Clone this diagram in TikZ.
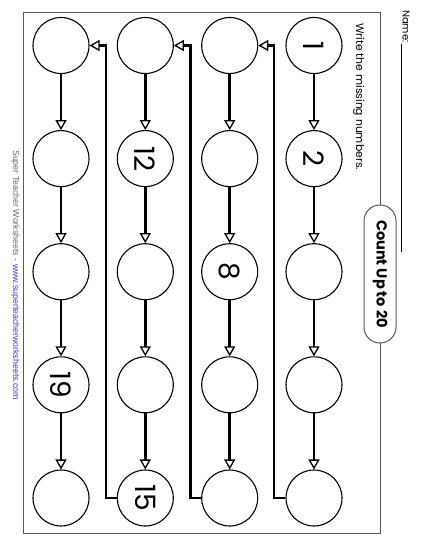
\documentclass[tikz,border=0pt]{standalone}
\usepackage{graphicx}
\usepackage{fontspec}
\setmainfont{Poppins}
\newfontfamily\footfont{Liberation Sans}
\usetikzlibrary{arrows.meta}
\definecolor{framegray}{gray}{0.35}
\definecolor{footgray}{gray}{0.42}
\definecolor{urlblue}{RGB}{60,60,200}
\begin{document}
\begin{tikzpicture}[x=1pt,y=-1pt,
  numcirc/.style={circle, draw, line width=1.1pt, minimum size=56pt, inner sep=0pt,
    font=\fontsize{28}{28}\selectfont},
  flow/.style={line width=2.5pt, -{Triangle[open, length=10pt, width=11pt, line width=1.3pt]}},
  rottext/.style={rotate=-90, inner sep=0pt, anchor=base west},
]
\useasboundingbox (0,0) rectangle (425,550);
% frame
\draw[framegray, line width=1pt] (23,12) rectangle (380,533);
% title pill
\node[draw=framegray, line width=1pt, fill=white, rounded corners=15.9pt,
  minimum width=32pt, minimum height=138pt, inner sep=0pt,
  font=\fontsize{14.5}{14.5}\selectfont\bfseries] (title) at (380,274)
  {\rotatebox{-90}{Count Up to 20}};
% name
\node[rottext, font=\fontsize{10}{10}\selectfont] (name) at (402.5,10) {Name:};
\draw[line width=0.6pt] ([xshift=-1.5pt,yshift=-1pt]name.base east) -- ++(0,208);
% instruction
\node[rottext, font=\fontsize{10.8}{10.8}\selectfont] (instr) at (356,23) {Write the missing numbers.};
% footer
\node[rottext, font=\footfont\fontsize{8.8}{8.8}\selectfont] (foot) at (13,150)
  {\textcolor{footgray}{Super Teacher Worksheets - }\textcolor{urlblue}{www.superteacherworksheets.com}};
% circles: column a (rightmost) .. d (leftmost)
\node[numcirc] (a1) at (314,45.5) {\rotatebox{-90}{1}};
\node[numcirc] (a2) at (314,158.6) {\rotatebox{-90}{2}};
\node[numcirc] (a3) at (314,271.7) {};
\node[numcirc] (a4) at (314,384.8) {};
\node[numcirc] (a5) at (314,498) {};
\node[numcirc] (b1) at (229.7,45.5) {};
\node[numcirc] (b2) at (229.7,158.6) {};
\node[numcirc] (b3) at (229.7,271.7) {\rotatebox{-90}{8}};
\node[numcirc] (b4) at (229.7,384.8) {};
\node[numcirc] (b5) at (229.7,498) {};
\node[numcirc] (c1) at (145.3,45.5) {};
\node[numcirc] (c2) at (145.3,158.6) {\rotatebox{-90}{12}};
\node[numcirc] (c3) at (145.3,271.7) {};
\node[numcirc] (c4) at (145.3,384.8) {};
\node[numcirc] (c5) at (145.3,498) {\rotatebox{-90}{15}};
\node[numcirc] (d1) at (61,45.5) {};
\node[numcirc] (d2) at (61,158.6) {};
\node[numcirc] (d3) at (61,271.7) {};
\node[numcirc] (d4) at (61,384.8) {\rotatebox{-90}{19}};
\node[numcirc] (d5) at (61,498) {};
% vertical arrows
\foreach \c in {a,b,c,d}{
  \draw[flow] (\c1) -- (\c2);
  \draw[flow] (\c2) -- (\c3);
  \draw[flow] (\c3) -- (\c4);
  \draw[flow] (\c4) -- (\c5);
}
% return connectors
\coordinate (ab-bot) at (274,498);
\coordinate (ab-top) at (274,45.5);
\coordinate (bc-bot) at (190.5,498);
\coordinate (bc-top) at (190.5,45.5);
\coordinate (cd-bot) at (106,498);
\coordinate (cd-top) at (106,45.5);
\draw[flow] (a5) -- (ab-bot) -- (ab-top) -- (b1);
\draw[flow] (b5) -- (bc-bot) -- (bc-top) -- (c1);
\draw[flow] (c5) -- (cd-bot) -- (cd-top) -- (d1);
\end{tikzpicture}
\end{document}
